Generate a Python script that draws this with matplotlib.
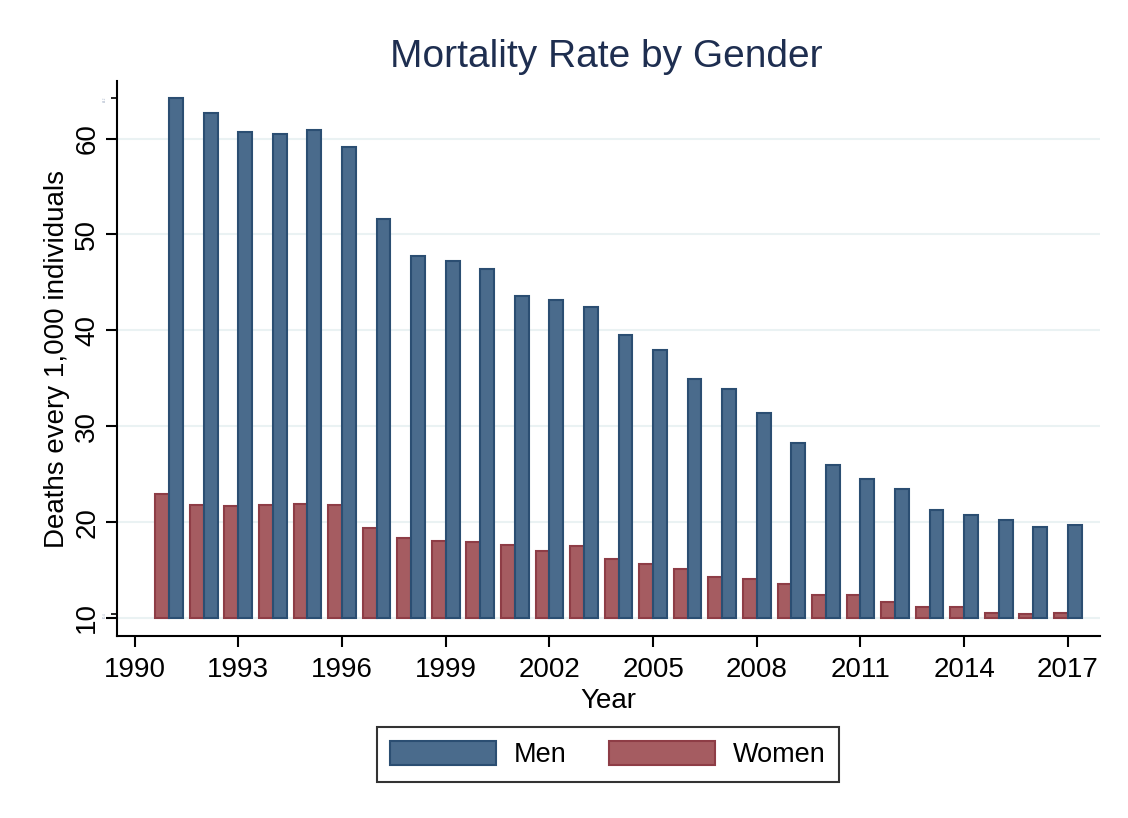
import matplotlib.pyplot as plt
import matplotlib.patches as mpatches
import numpy as np

plt.rcParams["font.family"] = ["Liberation Sans", "DejaVu Sans"]

years = list(range(1991, 2018))
men = [64.2, 62.7, 60.7, 60.5, 60.9, 59.1, 51.6, 47.8, 47.2, 46.4, 43.6, 43.2,
       42.4, 39.5, 37.9, 34.9, 33.9, 31.4, 28.2, 26.0, 24.5, 23.4, 21.3, 20.7,
       20.2, 19.5, 19.7]
women = [22.9, 21.8, 21.7, 21.8, 21.9, 21.8, 19.4, 18.3, 18.0, 17.9, 17.6, 17.0,
         17.5, 16.2, 15.6, 15.1, 14.3, 14.1, 13.5, 12.4, 12.4, 11.7, 11.1, 11.1,
         10.5, 10.4, 10.5]
xticks = list(range(1990, 2018, 3))
yticks = [10, 20, 30, 40, 50, 60]
base = 10

men_fill, men_edge = "#4a6b8c", "#2b4e72"
women_fill, women_edge = "#a55c61", "#8e3d46"

fig = plt.figure(figsize=(11.28, 8.18), dpi=100)
ax = fig.add_axes([117 / 1128, 1 - 636 / 818, (1100 - 117) / 1128, (636 - 81) / 818])

x = np.array(years)
w = 0.4
ax.bar(x - w / 2, np.array(women) - base, bottom=base, width=w,
       color=women_fill, edgecolor=women_edge, linewidth=1.5, zorder=3)
ax.bar(x + w / 2, np.array(men) - base, bottom=base, width=w,
       color=men_fill, edgecolor=men_edge, linewidth=1.5, zorder=3)

ax.set_xlim(1989.49, 2017.93)
ax.set_ylim(8.12, 66.0)
ax.set_xticks(xticks)
ax.set_yticks(yticks)
# tiny min/max marks on the y axis
ax.set_yticks([min(women), max(men)], minor=True)
ax.set_yticklabels([f"{min(women):.1f}", f"{max(men):.1f}"], minor=True,
                   fontsize=2, color="#9aa8c0")
ax.tick_params(axis="y", which="minor", length=4, width=1.2, rotation=90)
ax.tick_params(axis="both", which="major", labelsize=20, length=8, width=1.5)
ax.tick_params(axis="y", which="major", rotation=90, pad=4)
ax.tick_params(axis="x", pad=7)
for lab in ax.get_yticklabels():
    lab.set_va("center")

ax.grid(axis="y", color="#eaf2f3", linewidth=1.5, zorder=0)
ax.set_axisbelow(True)
for s in ["top", "right"]:
    ax.spines[s].set_visible(False)
for s in ["left", "bottom"]:
    ax.spines[s].set_linewidth(1.5)

ax.set_xlabel("Year", fontsize=20, labelpad=4)
ax.set_ylabel("Deaths every 1,000 individuals", fontsize=20, labelpad=3)

fig.text(606.5 / 1128, 1 - 57 / 818, "Mortality Rate by Gender", fontsize=28,
         color="#1e2e50", ha="center", va="center")

handles = [mpatches.Patch(facecolor=men_fill, edgecolor=men_edge, linewidth=1.5, label="Men"),
           mpatches.Patch(facecolor=women_fill, edgecolor=women_edge, linewidth=1.5, label="Women")]
leg = fig.legend(handles=handles, loc="center", bbox_to_anchor=(608 / 1128, 1 - 754.5 / 818),
                 ncol=2, fontsize=19.5, frameon=True, fancybox=False, shadow=False,
                 handlelength=3.9, handleheight=1.0, handletextpad=0.67,
                 columnspacing=1.57, borderpad=0.5)
leg.get_frame().set_edgecolor("black")
leg.get_frame().set_linewidth(1.5)

fig.savefig("out.png", dpi=100, facecolor="white")
